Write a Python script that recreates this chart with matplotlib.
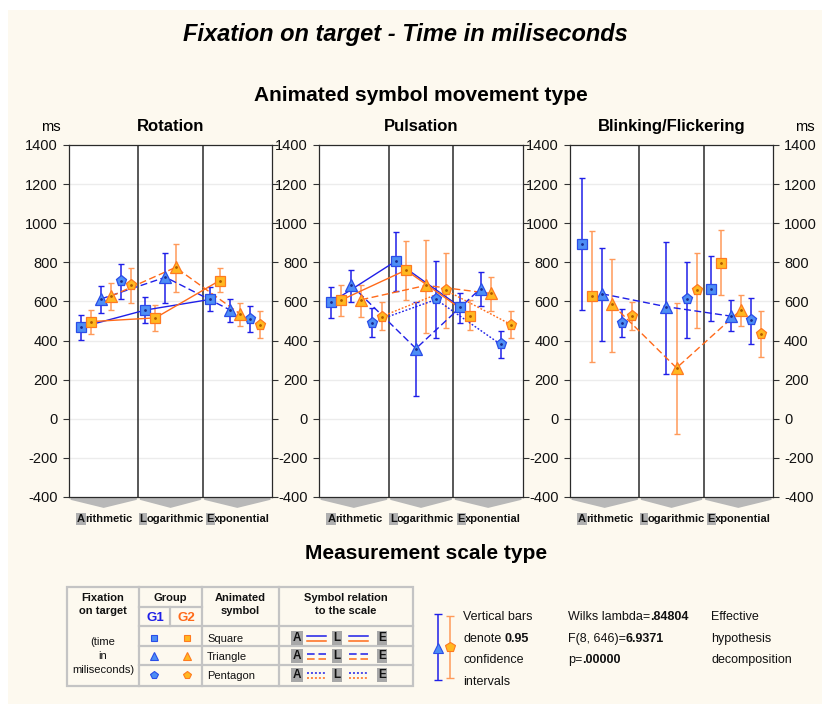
import numpy as np
import matplotlib
matplotlib.use("Agg")
import matplotlib.pyplot as plt
from matplotlib import transforms
from matplotlib.patches import Rectangle, Polygon

plt.rcParams["font.family"] = ["Liberation Sans", "DejaVu Sans"]
plt.rcParams["axes.unicode_minus"] = False

nan = np.nan

panels = ["Rotation", "Pulsation", "Blinking/Flickering"]
scales = ["Arithmetic", "Logarithmic", "Exponential"]
symbols = ["Square", "Triangle", "Pentagon"]
yticks = [-400, -200, 0, 200, 400, 600, 800, 1000, 1200, 1400]

# rows = symbol (square, triangle, pentagon), columns = scale (A, L, E)
rot_g1_mean = [[468, 556, 610], [613, 724, 557], [704, nan, 511]]
rot_g1_low = [[405, 489, 550], [542, 591, 496], [613, nan, 445]]
rot_g1_high = [[530, 622, 673], [678, 849, 612], [793, nan, 578]]
rot_g2_mean = [[497, 516, 707], [627, 774, 537], [683, nan, 480]]
rot_g2_low = [[434, 451, 646], [557, 646, 475], [593, nan, 414]]
rot_g2_high = [[557, 583, 769], [694, 895, 593], [772, nan, 549]]

pul_g1_mean = [[595, 806, 571], [683, 359, 666], [492, 610, 380]]
pul_g1_low = [[515, 653, 491], [598, 119, 576], [419, 414, 313]]
pul_g1_high = [[673, 956, 644], [760, 595, 750], [564, 805, 450]]
pul_g2_mean = [[607, 760, 528], [609, 682, 641], [523, 656, 482]]
pul_g2_low = [[526, 608, 453], [523, 440, 550], [453, 462, 412]]
pul_g2_high = [[685, 908, 605], [685, 914, 723], [596, 847, 549]]

bli_g1_mean = [[893, nan, 666], [639, 573, 525], [491, 610, 503]]
bli_g1_low = [[556, nan, 498], [399, 231, 448], [419, 414, 383]]
bli_g1_high = [[1229, nan, 834], [875, 905, 605], [562, 803, 620]]
bli_g2_mean = [[627, nan, 798], [585, 260, 556], [525, 656, 436]]
bli_g2_low = [[291, nan, 632], [344, -76, 475], [453, 463, 317]]
bli_g2_high = [[960, nan, 965], [817, 591, 631], [598, 847, 553]]

# which symbols have their means joined across the three scales
rot_joined = [True, True, False]
pul_joined = [True, True, True]
bli_joined = [False, True, False]

CREAM = "#fdf9ef"
BLUE_LINE = "#1f1fe8"
BLUE_FILL = "#4d8ef5"
BLUE_EDGE = "#2a4de8"
BLUE_DOT = "#1a2a90"
OR_LINE = "#ff6a1a"
OR_ERR = "#ff9a5a"
OR_FILL = "#ffb820"
OR_EDGE = "#ff7a20"
OR_DOT = "#b05a00"

MARKERS = ["s", "^", "p"]
MSIZES = [6.5, 8, 8]
LSTYLES = ["-", (0, (5, 2.5)), (0, (1.3, 1.3))]
CAT_STEP = 6.4
XLIM = (-1.2, 19.0)
DIVIDERS = [5.7, 12.1]

W, H = 822, 704
fig = plt.figure(figsize=(W / 100, H / 100), dpi=100)
fig.patch.set_facecolor("white")
renderer = fig.canvas.get_renderer()
bg = fig.add_axes([0, 0, 1, 1], zorder=-5)
bg.set_xlim(0, W)
bg.set_ylim(H, 0)
bg.axis("off")
bg.add_patch(Rectangle((8, 10), W - 8, H - 10, facecolor=CREAM, edgecolor="none"))

# titles
bg.text(405, 41, "Fixation on target - Time in miliseconds", ha="center", va="baseline",
        fontsize=17, fontweight="bold", fontstyle="italic")
bg.text(421, 101, "Animated symbol movement type", ha="center", va="baseline",
        fontsize=15, fontweight="bold")
bg.text(426, 559, "Measurement scale type", ha="center", va="baseline",
        fontsize=15, fontweight="bold")
bg.text(51, 131, "ms", ha="center", va="baseline", fontsize=10.5)
bg.text(805, 131, "ms", ha="center", va="baseline", fontsize=10.5)

groups = [
    [(rot_g1_mean, rot_g1_low, rot_g1_high), (rot_g2_mean, rot_g2_low, rot_g2_high)],
    [(pul_g1_mean, pul_g1_low, pul_g1_high), (pul_g2_mean, pul_g2_low, pul_g2_high)],
    [(bli_g1_mean, bli_g1_low, bli_g1_high), (bli_g2_mean, bli_g2_low, bli_g2_high)],
]
joined = [rot_joined, pul_joined, bli_joined]
panel_px = [(69, 272), (319, 523), (570, 773)]
top, bottom = 145, 497

gstyle = [
    dict(line=BLUE_LINE, err=BLUE_LINE, fill=BLUE_FILL, edge=BLUE_EDGE, dot=BLUE_DOT),
    dict(line=OR_LINE, err=OR_ERR, fill=OR_FILL, edge=OR_EDGE, dot=OR_DOT),
]

for p, name in enumerate(panels):
    l, r = panel_px[p]
    ax = fig.add_axes([l / W, 1 - bottom / H, (r - l) / W, (bottom - top) / H], zorder=1)
    ax.set_facecolor("white")
    ax.set_xlim(*XLIM)
    ax.set_ylim(-400, 1400)
    ax.set_yticks(yticks)
    ax.set_xticks([])
    for yv in yticks[1:-1]:
        ax.axhline(yv, color="#ececec", lw=1, zorder=0)
    for dv in DIVIDERS:
        ax.axvline(dv, color="#2a2a2a", lw=1.1, zorder=1.5)
    for sp in ax.spines.values():
        sp.set_color("#2a2a2a")
        sp.set_linewidth(0.9)
    ax.tick_params(axis="y", direction="out", length=4, width=0.8, left=True, right=True,
                   labelleft=True, labelright=(p == 2), labelsize=10.5, pad=4,
                   color="#333333", labelcolor="#111111")

    for g in range(2):
        mean, low, high = groups[p][g]
        st = gstyle[g]
        for s in range(3):
            m = np.array(mean[s], dtype=float)
            lo = np.array(low[s], dtype=float)
            hi = np.array(high[s], dtype=float)
            xs = np.array([k * CAT_STEP + s * 2 + g for k in range(3)])
            ok = ~np.isnan(m)
            ax.errorbar(xs[ok], m[ok], yerr=[m[ok] - lo[ok], hi[ok] - m[ok]], fmt="none",
                        ecolor=st["err"], elinewidth=1.1, capsize=2.2, capthick=1, zorder=2)
            if joined[p][s]:
                ax.plot(xs, m, color=st["line"], lw=1.0, ls=LSTYLES[s], zorder=3)
            ax.plot(xs[ok], m[ok], ls="none", marker=MARKERS[s], ms=MSIZES[s],
                    mfc=st["fill"], mec=st["edge"], mew=0.9, zorder=4)
            ax.plot(xs[ok], m[ok], ls="none", marker=".", ms=2, color=st["dot"], zorder=5)

    # panel title
    bg.text((l + r) / 2, 131, name, ha="center", va="baseline", fontsize=12, fontweight="bold")

    # scale labels with grey chevrons and highlighted initial
    trans = transforms.blended_transform_factory(ax.transData, ax.transAxes)
    inv = trans.inverted()
    edges = [XLIM[0], DIVIDERS[0], DIVIDERS[1], XLIM[1]]
    lab_y = -0.072
    for k, lab in enumerate(scales):
        a, b = edges[k] + 0.15, edges[k + 1] - 0.15
        c = (a + b) / 2
        ax.add_patch(Polygon([(a, -0.002), (b, -0.002), (b, -0.008), (c, -0.031), (a, -0.008)],
                             closed=True, transform=trans, facecolor="#b8b8b8",
                             edgecolor="none", clip_on=False))
        txt_kw = dict(transform=trans, va="baseline", fontsize=8, fontweight="bold",
                      color="#111111")
        word = ax.text(c + 0.1, lab_y, lab, ha="center", **txt_kw)
        bb = word.get_window_extent(renderer)
        x_left = inv.transform((bb.x0, bb.y0))[0]
        x_right = inv.transform((bb.x1, bb.y0))[0]
        word.set_text(lab[1:])
        word.set_horizontalalignment("right")
        word.set_position((x_right, lab_y))
        ax.text(x_left, lab_y, lab[0], ha="left", **txt_kw,
                bbox=dict(boxstyle="square,pad=0.08", facecolor="#b0b0b0", edgecolor="none"))

# ---- legend table ----
GRID = "#c4c4c4"
tl, tr, tt, tb = 67, 413, 587, 686
bg.add_patch(Rectangle((tl, tt), tr - tl, tb - tt, facecolor="none", edgecolor=GRID, lw=1.6))
for xv in [139, 202, 279]:
    bg.plot([xv, xv], [tt, tb], color=GRID, lw=1.6)
bg.plot([170, 170], [607, 626], color=GRID, lw=1.6)
bg.plot([139, 202], [607, 607], color=GRID, lw=1.6)
for yv in [626, 646, 665]:
    bg.plot([139, tr], [yv, yv], color=GRID, lw=1.6)

hdr = dict(ha="center", va="baseline", fontsize=8, fontweight="bold", color="#111111")
bg.text(103, 601, "Fixation", **hdr)
bg.text(103, 614, "on target", **hdr)
bg.text(170.5, 601, "Group", **hdr)
bg.text(155, 621, "G1", ha="center", va="baseline", fontsize=9.5, fontweight="bold", color=BLUE_LINE)
bg.text(186, 621, "G2", ha="center", va="baseline", fontsize=9.5, fontweight="bold", color=OR_LINE)
bg.text(240.5, 601, "Animated", **hdr)
bg.text(240.5, 614, "symbol", **hdr)
bg.text(346, 601, "Symbol relation", **hdr)
bg.text(346, 614, "to the scale", **hdr)
for yv, t in zip([645, 659, 673], ["(time", "in", "miliseconds)"]):
    bg.text(103, yv, t, ha="center", va="baseline", fontsize=8, color="#111111")

row_y = [638, 656, 675]
for s in range(3):
    y = row_y[s]
    bg.plot([154], [y], ls="none", marker=MARKERS[s], ms=MSIZES[s] - 2.5, mfc=BLUE_FILL, mec=BLUE_EDGE, mew=0.8)
    bg.plot([187], [y], ls="none", marker=MARKERS[s], ms=MSIZES[s] - 2.5, mfc=OR_FILL, mec=OR_EDGE, mew=0.8)
    bg.text(207, y + 4, symbols[s], ha="left", va="baseline", fontsize=8, color="#111111")
    for lx, letter in zip([297, 337, 382], "ALE"):
        bg.text(lx, y, letter, ha="center", va="center", fontsize=8.5, fontweight="bold",
                color="#111111",
                bbox=dict(boxstyle="square,pad=0.12", facecolor="#a8a8a8", edgecolor="none"))
    for x0, x1 in [(307, 326), (349, 368)]:
        bg.plot([x0, x1], [y - 2.5, y - 2.5], color=BLUE_LINE, lw=1.1, ls=LSTYLES[s])
        bg.plot([x0, x1], [y + 2.5, y + 2.5], color=OR_LINE, lw=1.1, ls=LSTYLES[s])

# ---- confidence interval key and statistics ----
bg.errorbar([438], [648], yerr=[[34], [32]], fmt="none", ecolor=BLUE_LINE, elinewidth=1.1,
            capsize=3, capthick=1)
bg.plot([438], [648], ls="none", marker="^", ms=7, mfc=BLUE_FILL, mec=BLUE_EDGE, mew=0.8)
bg.errorbar([450], [647], yerr=[[31], [31]], fmt="none", ecolor=OR_ERR, elinewidth=1.1,
            capsize=3, capthick=1)
bg.plot([450], [647], ls="none", marker="p", ms=7, mfc=OR_FILL, mec=OR_EDGE, mew=0.8)


def mixed(x, y, parts):
    prev = None
    for txt, weight, gap in parts:
        if prev is None:
            prev = bg.text(x, y, txt, ha="left", va="bottom", fontsize=9, fontweight=weight,
                           color="#111111")
        else:
            prev = bg.annotate(txt, xy=(1, 0), xycoords=prev, xytext=(gap, 0),
                               textcoords="offset points", ha="left", va="bottom",
                               fontsize=9, fontweight=weight, color="#111111")


line_y = [623, 645, 666, 688]
mixed(463, line_y[0], [("Vertical bars", "normal", 0)])
mixed(463, line_y[1], [("denote", "normal", 0), ("0.95", "bold", 2.5)])
mixed(463, line_y[2], [("confidence", "normal", 0)])
mixed(463, line_y[3], [("intervals", "normal", 0)])
mixed(568, line_y[0], [("Wilks lambda=", "normal", 0), (".84804", "bold", 0)])
mixed(568, line_y[1], [("F(8, 646)=", "normal", 0), ("6.9371", "bold", 0)])
mixed(568, line_y[2], [("p=", "normal", 0), (".00000", "bold", 0)])
mixed(711, line_y[0], [("Effective", "normal", 0)])
mixed(711, line_y[1], [("hypothesis", "normal", 0)])
mixed(711, line_y[2], [("decomposition", "normal", 0)])

fig.savefig("out.png", dpi=100, facecolor=fig.get_facecolor())
